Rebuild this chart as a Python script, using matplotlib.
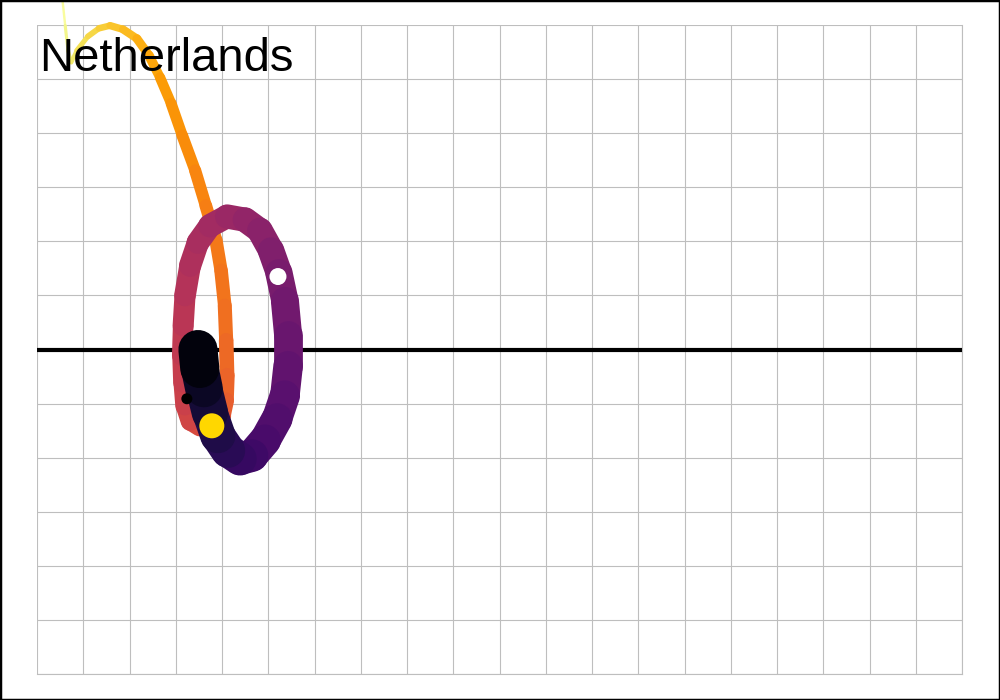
import numpy as np
import matplotlib
matplotlib.use("Agg")
import matplotlib.pyplot as plt
from matplotlib.collections import LineCollection
from matplotlib.patches import Rectangle

# ---- data ----
country = "Netherlands"
x_vals = [0.54, 0.61, 0.67, 0.74, 0.86, 1.10, 1.34, 1.58, 1.86, 2.16,
          2.42, 2.66, 2.90, 3.14, 3.42, 3.65, 3.87, 3.98, 4.06, 4.09,
          4.11, 4.09, 4.02, 3.81, 3.52, 3.31, 3.20, 3.16, 3.14, 3.16,
          3.20, 3.31, 3.48, 3.74, 4.11, 4.50, 4.82, 5.06, 5.23, 5.36,
          5.43, 5.43, 5.36, 5.19, 4.93, 4.65, 4.39, 4.13, 3.91, 3.74,
          3.61, 3.52, 3.48]
y_vals = [6.55, 5.99, 5.53, 5.31, 5.53, 5.79, 5.94, 5.99, 5.92, 5.75,
          5.44, 5.03, 4.55, 3.96, 3.31, 2.66, 2.02, 1.46, 0.81, 0.17,
          -0.48, -0.94, -1.22, -1.42, -1.44, -1.33, -1.04, -0.61, -0.11, 0.44,
          1.00, 1.55, 1.98, 2.29, 2.46, 2.40, 2.20, 1.83, 1.42, 0.90,
          0.26, -0.30, -0.85, -1.28, -1.68, -1.96, -2.02, -1.87, -1.59, -1.17,
          -0.72, -0.35, 0.00]
time_frac = [0.00, 0.02, 0.04, 0.05, 0.07, 0.09, 0.11, 0.13, 0.15, 0.17,
             0.19, 0.21, 0.23, 0.245, 0.26, 0.275, 0.29, 0.30, 0.31, 0.325,
             0.34, 0.355, 0.37, 0.39, 0.41, 0.43, 0.45, 0.465, 0.48, 0.495,
             0.51, 0.525, 0.54, 0.555, 0.575, 0.595, 0.615, 0.635, 0.655, 0.675,
             0.695, 0.715, 0.735, 0.755, 0.775, 0.795, 0.815, 0.84, 0.865, 0.89,
             0.92, 0.955, 1.00]

marker_x = [5.21, 3.78, 3.24]
marker_y = [1.35, -1.41, -0.91]
marker_colors = ["white", "#FFD700", "black"]
marker_diam_px = [17, 25, 11]

# ---- figure ----
fig = plt.figure(figsize=(10, 7), dpi=100)
ax = fig.add_axes([0.037, 0.0371, 0.925, 0.9271])
ax.set_xlim(0, 20)
ax.set_ylim(-6, 6)
ax.set_xticks(np.arange(0, 21, 1))
ax.set_yticks(np.arange(-6, 7, 1))
ax.tick_params(length=0, labelbottom=False, labelleft=False)
grid_kw = dict(color="#bebebe", linewidth=0.8)
ax.grid(True, **grid_kw)
ax.set_axisbelow(True)
ax.axhline(-6, zorder=0.5, clip_on=False, **grid_kw)
ax.axvline(20, zorder=0.5, clip_on=False, **grid_kw)
for s in ax.spines.values():
    s.set_visible(False)

ax.axhline(0, color="black", linewidth=3.0, zorder=2)

x = np.array(x_vals)
y = np.array(y_vals)
t = np.array(time_frac)
pts = np.column_stack([x, y])
segs = np.stack([pts[:-1], pts[1:]], axis=1)
tm = (t[:-1] + t[1:]) / 2
cmap = plt.get_cmap("inferno")
colors = cmap(1 - tm)
widths_px = 2 + 38 * tm
lc = LineCollection(segs, colors=colors, linewidths=widths_px * 0.72,
                    capstyle="round", joinstyle="round", zorder=3, clip_on=False)
ax.add_collection(lc)

sizes = [(d * 0.72) ** 2 for d in marker_diam_px]
ax.scatter(marker_x, marker_y, s=sizes, c=marker_colors, edgecolors="none",
           zorder=4, clip_on=False)

fig.text(0.039, 1 - 71 / 700, country, fontsize=34, family="Liberation Sans",
         va="baseline", ha="left", color="black", zorder=5)

fig.add_artist(Rectangle((0, 0), 1, 1, transform=fig.transFigure, fill=False,
                         edgecolor="black", linewidth=2.5))

fig.savefig("out.png", dpi=100)
